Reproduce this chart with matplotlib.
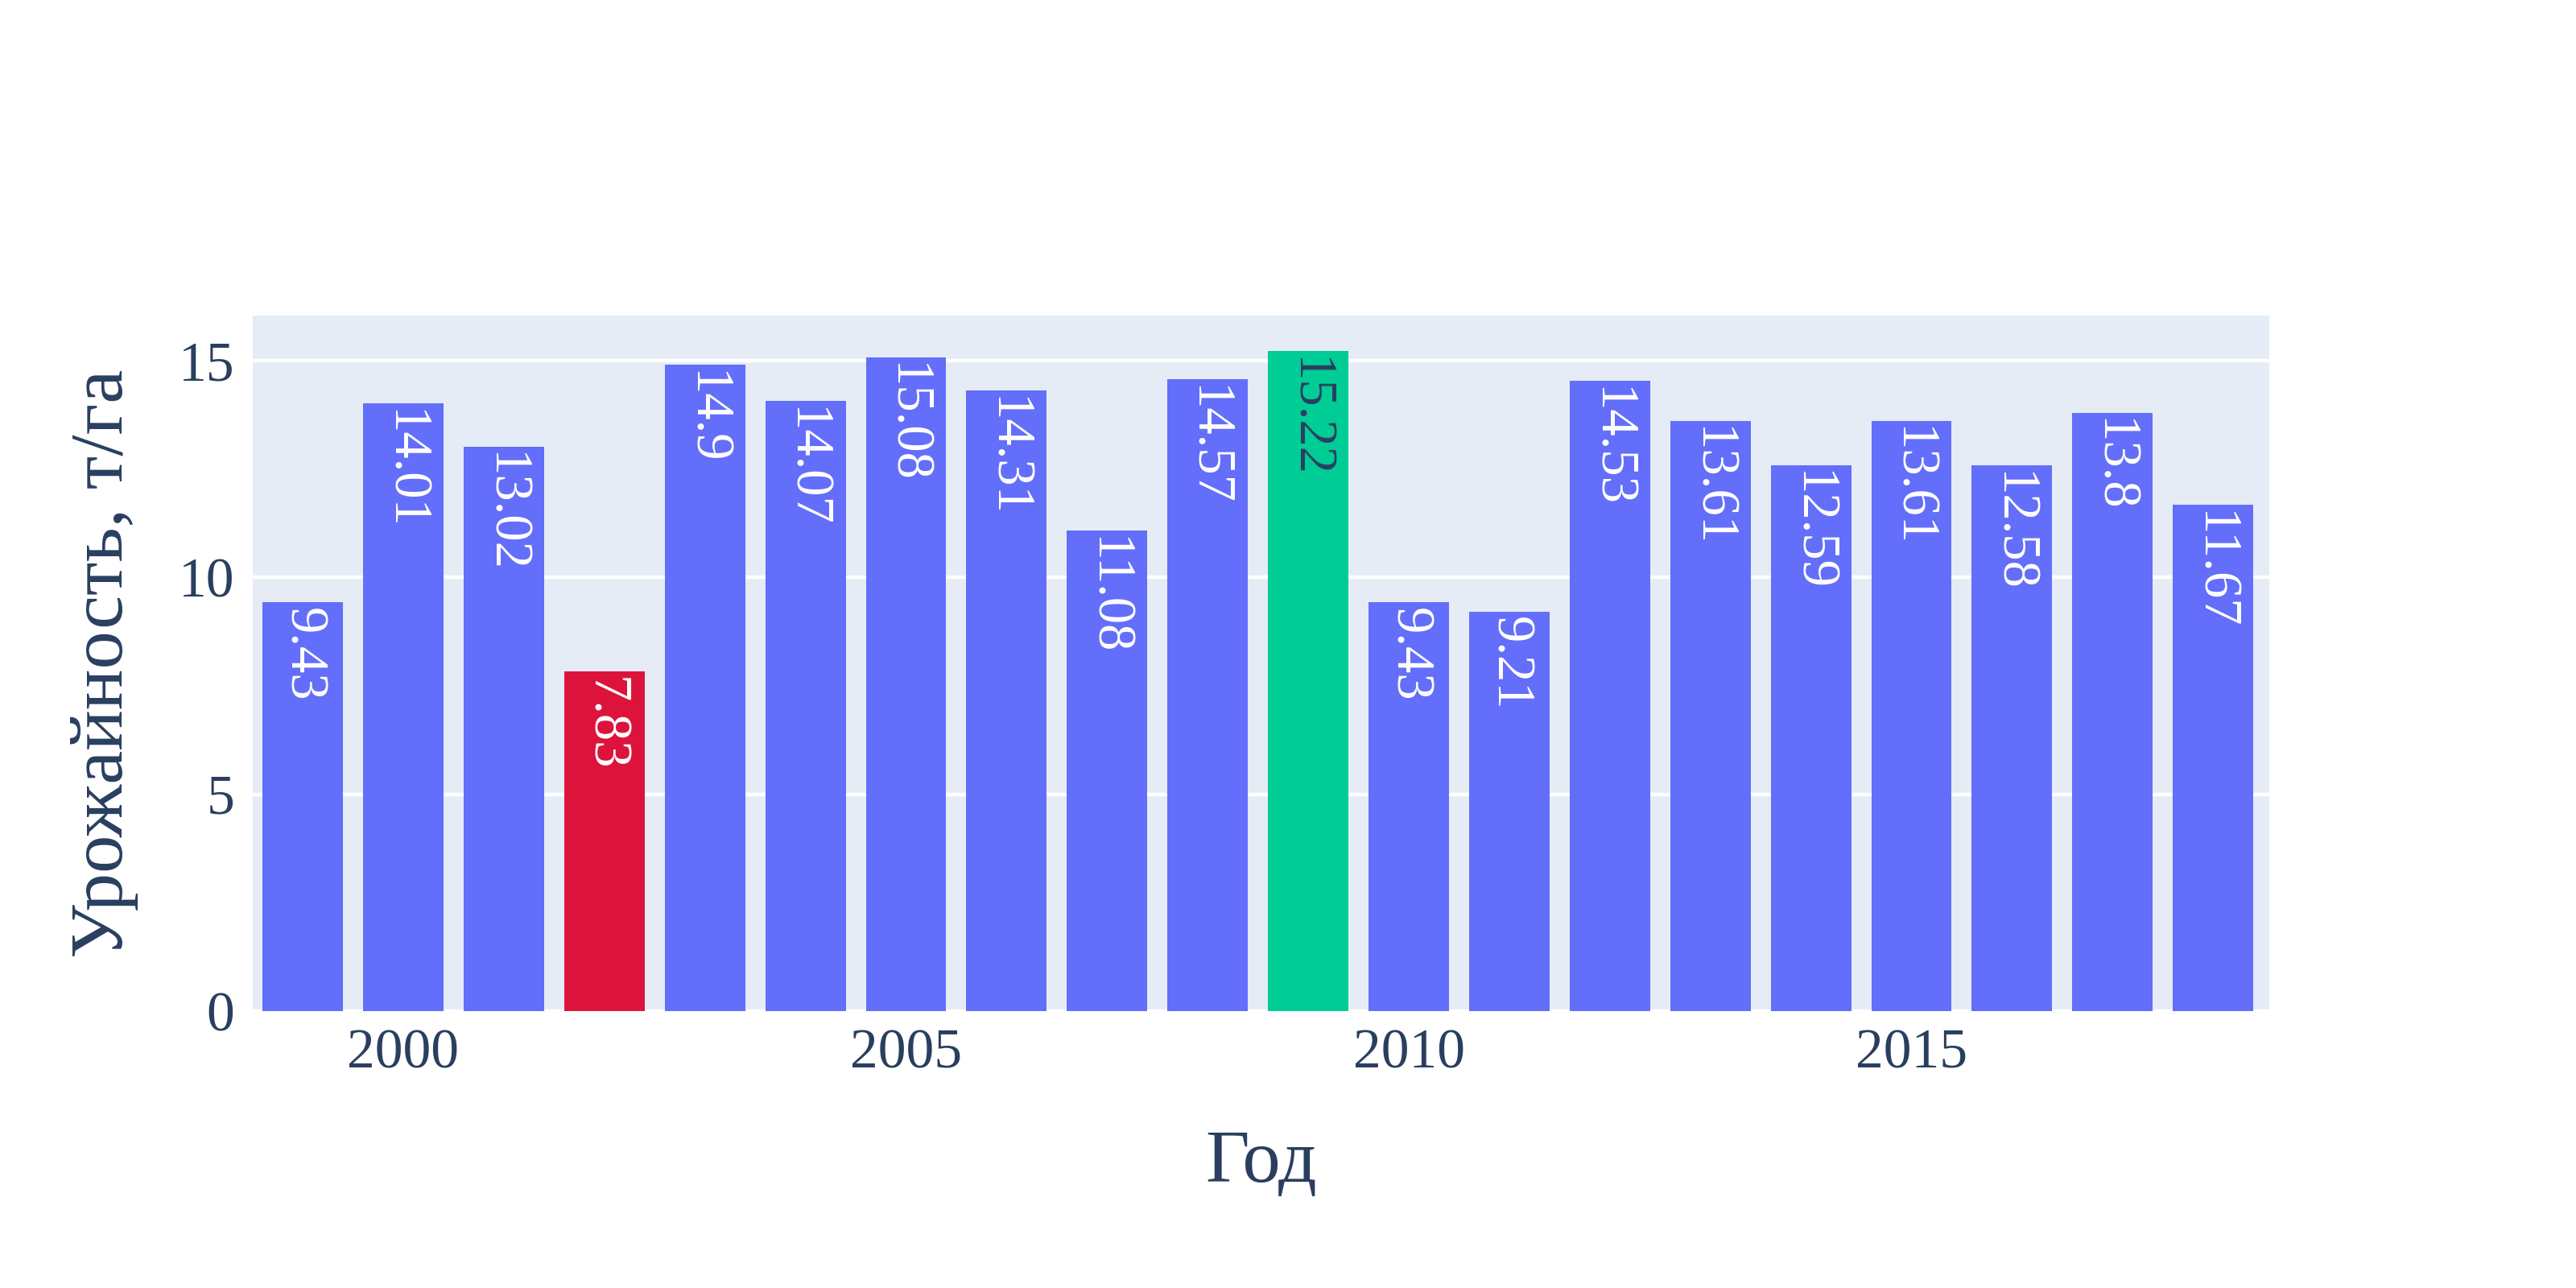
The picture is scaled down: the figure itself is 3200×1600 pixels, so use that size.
import matplotlib
matplotlib.use("Agg")
import matplotlib.pyplot as plt
from matplotlib import font_manager

years = list(range(1999, 2019))
yields = [9.43, 14.01, 13.02, 7.83, 14.9, 14.07, 15.08, 14.31, 11.08, 14.57,
          15.22, 9.43, 9.21, 14.53, 13.61, 12.59, 13.61, 12.58, 13.8, 11.67]
labels = ["9.43", "14.01", "13.02", "7.83", "14.9", "14.07", "15.08", "14.31", "11.08", "14.57",
          "15.22", "9.43", "9.21", "14.53", "13.61", "12.59", "13.61", "12.58", "13.8", "11.67"]

BLUE, RED, GREEN = "#636efa", "#dc143c", "#00cc96"
TEXT = "#2a3f5f"
vmin, vmax = min(yields), max(yields)
colors = [RED if v == vmin else GREEN if v == vmax else BLUE for v in yields]

# pick a Times-like serif that is actually installed
names = {f.name for f in font_manager.fontManager.ttflist}
serif = next((n for n in ["Liberation Serif", "Times New Roman", "Nimbus Roman", "DejaVu Serif"]
              if n in names), "serif")
plt.rcParams["font.family"] = [serif, "DejaVu Serif"]

fig = plt.figure(figsize=(16, 8), dpi=200)
ax = fig.add_axes([0.098, 0.215, 0.783, 0.54])
ax.set_facecolor("#e5ecf6")
ax.bar(years, yields, width=0.8, color=colors, zorder=2)

for x, v, lab, c in zip(years, yields, labels, colors):
    ax.text(x, v - 0.12, lab, rotation=270, ha="center", va="top",
            fontsize=24, color=TEXT if c == GREEN else "white", zorder=3)

ax.set_xlim(1998.5, 2018.56)
ax.set_ylim(0, 16.04)
ax.set_yticks([0, 5, 10, 15])
ax.set_xticks([2000, 2005, 2010, 2015])
ax.grid(axis="y", color="white", linewidth=1.6, zorder=1)
ax.set_axisbelow(True)
for s in ax.spines.values():
    s.set_visible(False)
ax.tick_params(length=0, labelsize=25, labelcolor=TEXT, pad=8)
ax.set_xlabel("Год", fontsize=34, color=TEXT, labelpad=22)
ax.set_ylabel("Урожайность, т/га", fontsize=34, color=TEXT, labelpad=18)

fig.savefig("out.png", dpi=200, facecolor="white")
